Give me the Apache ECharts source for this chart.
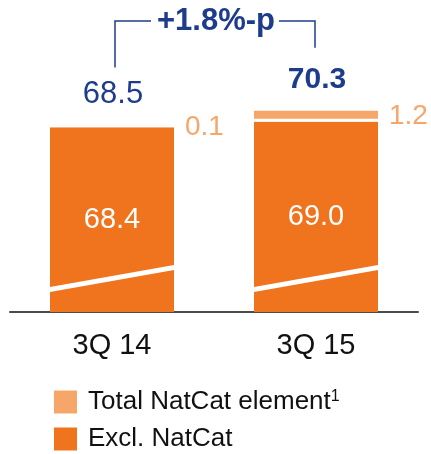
<!DOCTYPE html>
<html>
<head>
<meta charset="utf-8">
<script src="https://cdn.jsdelivr.net/npm/echarts@6/dist/echarts.min.js"></script>
<style>
html,body{margin:0;padding:0;background:#fff;}
#chart{width:431px;height:454px;}
</style>
</head>
<body>
<div id="chart"></div>
<script>
// ---- data ----
const categories = ['3Q 14', '3Q 15'];
const exclNatCat = [68.4, 69.0];
const natCat = [0.1, 1.2];
const totals = [68.5, 70.3];
const changeLabel = '+1.8%-p';
const seriesNames = ['Excl. NatCat', 'Total NatCat element'];
const axisMin = 48.3;
const axisMax = 79;

// ---- style ----
const FONT = '"Liberation Sans", Arial, sans-serif';
const DARK = '#F0731E';
const LIGHT = '#F7A66A';
const BLUE = '#1E3C8C';
const BAR_W = 124;

const chart = echarts.init(document.getElementById('chart'), null, {renderer: 'canvas'});

function renderAnno(params, api) {
  const i = api.value(0);
  const ex = api.value(1);
  const nc = api.value(2);
  const base = api.coord([i, axisMin]);
  const topDark = api.coord([i, ex]);
  const topAll = api.coord([i, ex + nc]);
  const cx = base[0];
  const xl = cx - BAR_W / 2, xr = cx + BAR_W / 2;
  const yb = base[1];
  const children = [];
  // white separator between segments
  children.push({type: 'rect', shape: {x: xl, y: topDark[1] - 3, width: BAR_W, height: 3}, style: {fill: '#fff'}});
  // axis break stripe
  children.push({type: 'polygon', shape: {points: [[xl, yb - 20], [xr, yb - 42], [xr, yb - 47], [xl, yb - 25]]}, style: {fill: '#fff'}});
  // total label
  const last = i === categories.length - 1;
  children.push({type: 'text', style: {
    text: totals[i].toFixed(1), x: cx + 1, y: topAll[1] - 16, align: 'center', verticalAlign: 'bottom',
    fill: BLUE, font: (last ? 'bold 30px ' : '31px ') + FONT
  }});
  if (last) {
    const p0 = api.coord([0, exclNatCat[0] + natCat[0]]);
    const p1 = topAll;
    const x0 = p0[0] + 3, x1 = p1[0] - 1;
    const yTop = 21;
    const yL = p0[1] - 59, yR = p1[1] - 63;
    const mid = (x0 + x1) / 2;
    const half = 64;
    const ls = {stroke: BLUE, lineWidth: 1.5, fill: null};
    children.push({type: 'polyline', shape: {points: [[x0, yL], [x0, yTop], [mid - half, yTop]]}, style: ls});
    children.push({type: 'polyline', shape: {points: [[mid + half, yTop], [x1, yTop], [x1, yR]]}, style: ls});
    children.push({type: 'text', style: {
      text: changeLabel, x: mid + 1, y: yTop, align: 'center', verticalAlign: 'middle',
      fill: BLUE, font: 'bold 31px ' + FONT
    }});
  }
  return {type: 'group', children: children};
}

const legendBase = {
  orient: 'vertical', left: 49,
  itemWidth: 23, itemHeight: 23, icon: 'rect',
  selectedMode: false,
  formatter: function (name) { return name === seriesNames[1] ? name + '{sup|1}' : name; },
  textStyle: {
    fontSize: 26, color: '#111', fontFamily: FONT, padding: [0, 0, 0, 6],
    rich: {sup: {fontSize: 16, color: '#111', fontFamily: FONT, verticalAlign: 'top', padding: [0, 0, 10, 0]}}
  }
};

const option = {
  animation: false,
  backgroundColor: '#fff',
  textStyle: {fontFamily: FONT},
  grid: {left: 10, right: 13, top: 30, bottom: 142},
  legend: [
    Object.assign({}, legendBase, {data: [seriesNames[1]], top: 384}),
    Object.assign({}, legendBase, {data: [seriesNames[0]], top: 421})
  ],
  xAxis: {
    type: 'category', data: categories,
    axisLine: {show: true, lineStyle: {color: '#4a4a4a', width: 2}},
    axisTick: {show: false},
    axisLabel: {fontSize: 29, color: '#111', margin: 19, fontFamily: FONT}
  },
  yAxis: {type: 'value', min: axisMin, max: axisMax, show: false, splitLine: {show: false}},
  series: [
    {
      name: seriesNames[0], type: 'bar', stack: 'a', data: exclNatCat, barWidth: BAR_W,
      itemStyle: {color: DARK},
      label: {show: true, position: 'inside', color: '#fff', fontSize: 29, fontFamily: FONT,
        formatter: p => p.value.toFixed(1)}
    },
    {
      name: seriesNames[1], type: 'bar', stack: 'a', data: natCat, barWidth: BAR_W,
      itemStyle: {color: LIGHT},
      label: {show: true, position: 'right', distance: 11, color: LIGHT, fontSize: 28, fontFamily: FONT,
        formatter: p => p.value.toFixed(1)}
    },
    {
      type: 'custom', z: 5, silent: true,
      data: categories.map((c, i) => [i, exclNatCat[i], natCat[i], totals[i]]),
      renderItem: renderAnno
    }
  ]
};
chart.setOption(option);
</script>
</body>
</html>
